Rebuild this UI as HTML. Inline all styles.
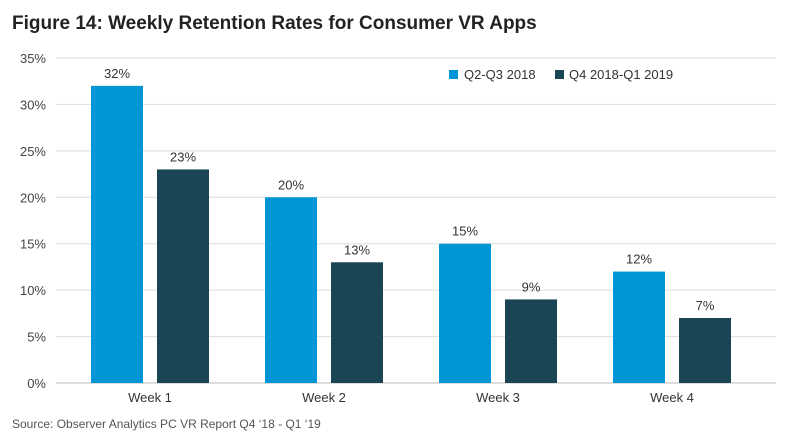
<!DOCTYPE html>
<html><head><meta charset="utf-8"><style>
body{margin:0;background:#fff;}
svg{display:block;font-family:"Liberation Sans",sans-serif;}
</style></head><body>
<svg id="c" width="800" height="443">
<text x="12" y="29" font-size="19" font-weight="bold" fill="#222">Figure 14: Weekly Retention Rates for Consumer VR Apps</text>
<g id="grid"></g><g id="bars"></g>
<g>
<rect x="449" y="70" width="9" height="9" fill="#0096d6"/>
<text x="464" y="79" font-size="13" fill="#333">Q2-Q3 2018</text>
<rect x="555" y="70" width="9" height="9" fill="#194555"/>
<text x="569" y="79" font-size="13" fill="#333">Q4 2018-Q1 2019</text>
</g>
<text x="12" y="428" font-size="12" fill="#555">Source: Observer Analytics PC VR Report Q4 ‘18 - Q1 ‘19</text>
</svg>
<script>
const categories=["Week 1","Week 2","Week 3","Week 4"];
const seriesA=[32,20,15,12];
const seriesB=[23,13,9,7];
const yTicks=[0,5,10,15,20,25,30,35];
const NS="http://www.w3.org/2000/svg";
const y0=383,yTop=58,yMax=35;
const y=v=>y0-(v/yMax)*(y0-yTop);
const x=i=>150+i*174;
const grid=document.getElementById('grid'),bars=document.getElementById('bars');
function mk(t,a,p){const e=document.createElementNS(NS,t);for(const k in a)e.setAttribute(k,a[k]);p.appendChild(e);return e;}
yTicks.forEach(t=>{
 const l=mk('line',{x1:56,x2:776,y1:y(t),y2:y(t),stroke:t===0?'#bbb':'#ddd','stroke-width':1},grid);
 
 
 const tx=mk('text',{x:46,y:y(t)+5,'text-anchor':'end','font-size':13,fill:'#444'},grid);
 tx.textContent=t+'%';
 
 
});
categories.forEach((c,i)=>{
 [[seriesA,'#0096d6',-59,'a'],[seriesB,'#194555',7,'b']].forEach(([s,col,off,k])=>{
  const r=mk('rect',{x:x(i)+off,y:y(s[i]),width:52,height:y0-y(s[i]),fill:col},bars);
  
  
  const v=mk('text',{x:x(i)+off+26,y:y(s[i])-8,'text-anchor':'middle','font-size':13,fill:'#333'},bars);
  v.textContent=s[i]+'%';
  
  
 });
 const t=mk('text',{x:x(i),y:402,'text-anchor':'middle','font-size':13,fill:'#333'},bars);
 t.textContent=c;
 
 
});
</script>
</body></html>
